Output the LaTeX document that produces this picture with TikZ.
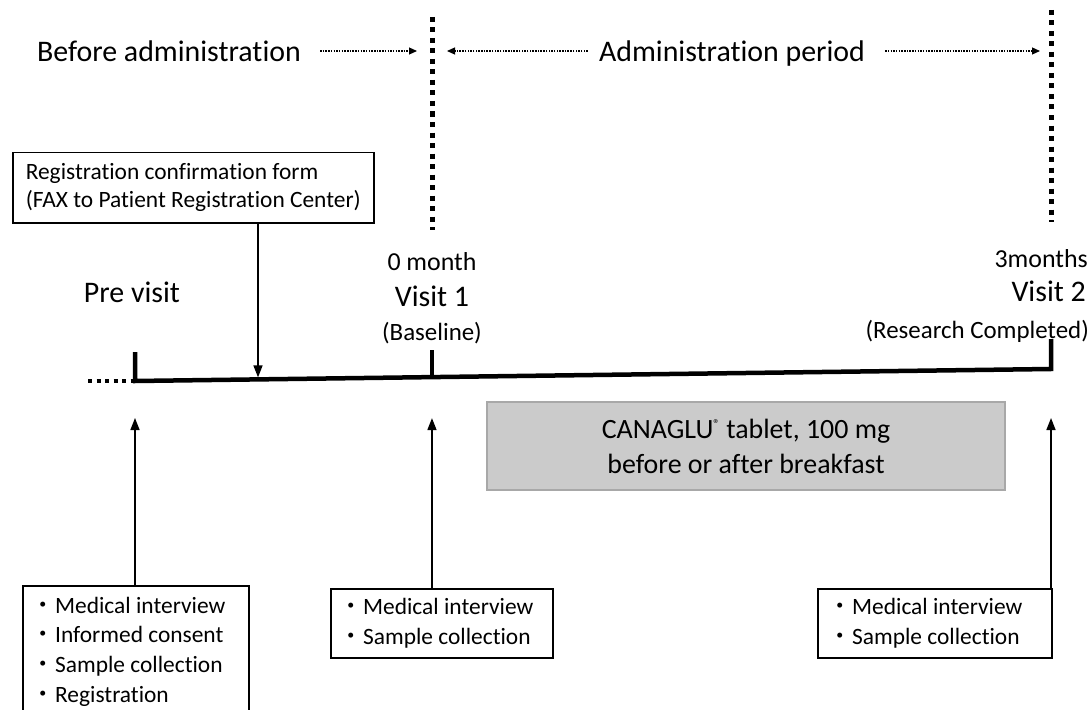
\documentclass[tikz,border=0pt]{standalone}
\usepackage{fontspec}
\setmainfont{Carlito}[Ligatures=NoCommon]
\newfontfamily\cjk{Noto Sans CJK JP}
\usetikzlibrary{arrows.meta, calc, positioning}
\definecolor{drugfill}{HTML}{CBCBCB}
\definecolor{drugline}{HTML}{A8A8A8}
\newcommand{\bul}{{\cjk ・}}

\begin{document}
\begin{tikzpicture}[x=1bp, y=-1bp, >={Triangle[length=12bp, width=9bp]},
  every node/.style={inner sep=0pt},
  bigtext/.style={font=\fontsize{30}{36}\selectfont, anchor=base},
  midtext/.style={font=\fontsize{26}{30}\selectfont, anchor=base},
  smalltext/.style={font=\fontsize{25}{30}\selectfont, anchor=base},
  listbox/.style={draw, line width=1.5bp, align=flush left, inner xsep=11bp, font=\fontsize{23.5}{30}\selectfont},
  period/.style={->, >={Triangle[length=8bp, width=7bp]}, line width=1.2bp, dash pattern=on 1.5bp off 1.2bp},
  border/.style={line width=5bp, dash pattern=on 5bp off 5.5bp},
  timeline/.style={line width=4.5bp, line join=miter},
  link/.style={->, line width=1.5bp}]
\useasboundingbox (0,0) rectangle (1090,710);

% periods
\node[bigtext] (before) at (169,62) {Before administration};
\node[bigtext] (admin) at (732,62) {Administration period};
\coordinate (b1top) at (432,17);
\coordinate (b1bot) at (432,230);
\coordinate (b2top) at (1051,10);
\coordinate (b2bot) at (1051,222);
\coordinate (arrowrow) at (0,51);
\draw[border] (b1top) -- (b1bot);
\draw[border] (b2top) -- (b2bot);
\draw[period] ([xshift=19bp]before.east |- arrowrow) -- ([xshift=-15bp]b1top |- arrowrow);
\draw[period] ([xshift=-11bp]admin.west |- arrowrow) -- ([xshift=15bp]b1top |- arrowrow);
\draw[period] ([xshift=20bp]admin.east |- arrowrow) -- ([xshift=-11bp]b2top |- arrowrow);

% time line
\coordinate (dots) at (88,381);
\coordinate (pre) at (135,381);
\coordinate (v2) at (1051,369);
\coordinate (v1) at ($(pre)!0.3242!(v2)$);
\coordinate (faxin) at ($(pre)!0.1343!(v2)$);
\draw[line width=4.5bp, dash pattern=on 4bp off 4.5bp] (dots) -- (pre);
\draw[timeline] ([yshift=29bp]pre) -- (pre) -- (v2) -- ([yshift=30bp]v2);
\draw[timeline] (v1) -- ([yshift=27bp]v1);

% visits
\node[bigtext] (previsit) at (132,302) {Pre visit};
\node[midtext] (month0) at (432,270) {0 month};
\node[bigtext] (visit1) at (432,306) {Visit 1};
\node[smalltext] (baseline) at (432,340) {(Baseline)};
\node[midtext, anchor=base east] (month3) at (1088,267) {3months};
\node[bigtext, anchor=base east] (visit2) at (1086,301) {Visit 2};
\node[smalltext, anchor=base east] (completed) at (1089,338) {(Research Completed)};

% registration form
\node[draw, line width=1.5bp, align=left, anchor=north west, inner xsep=13bp, inner ysep=11bp,
  font=\fontsize{23.5}{28}\selectfont] (regform) at (12,152)
  {Registration confirmation form\\(FAX to Patient Registration Center)};
\draw[link, shorten >=2bp] (regform.south -| faxin) -- (faxin);

% drug
\node[fill=drugfill, draw=drugline, line width=1.5bp, minimum width=518bp, minimum height=88bp,
  align=center, font=\fontsize{28}{35}\selectfont] (drug) at (746,446)
  {CANAGLU\raisebox{0.75ex}{\fontsize{13}{13}\selectfont ®} tablet, 100 mg\\before or after breakfast};

% tasks at each visit
\node[listbox, inner xsep=9bp, text width=208bp, minimum height=132bp, anchor=north west] (prebox) at (22,585)
  {\bul Medical interview\\ \bul Informed consent\\ \bul Sample collection\\ \bul Registration};
\node[listbox, inner xsep=9bp, text width=204bp, minimum height=69bp, anchor=north west] (v1box) at (330,588)
  {\bul Medical interview\\ \bul Sample collection};
\node[listbox, text width=212bp, minimum height=69bp, anchor=north west] (v2box) at (817,588)
  {\bul Medical interview\\ \bul Sample collection};
\draw[link] (prebox.north -| pre) -- ([yshift=-37bp]pre);
\draw[link] (v1box.north -| v1) -- ([yshift=-41bp]v1);
\draw[link] (v2box.north -| v2) -- ([yshift=-49bp]v2);
\end{tikzpicture}
\end{document}
